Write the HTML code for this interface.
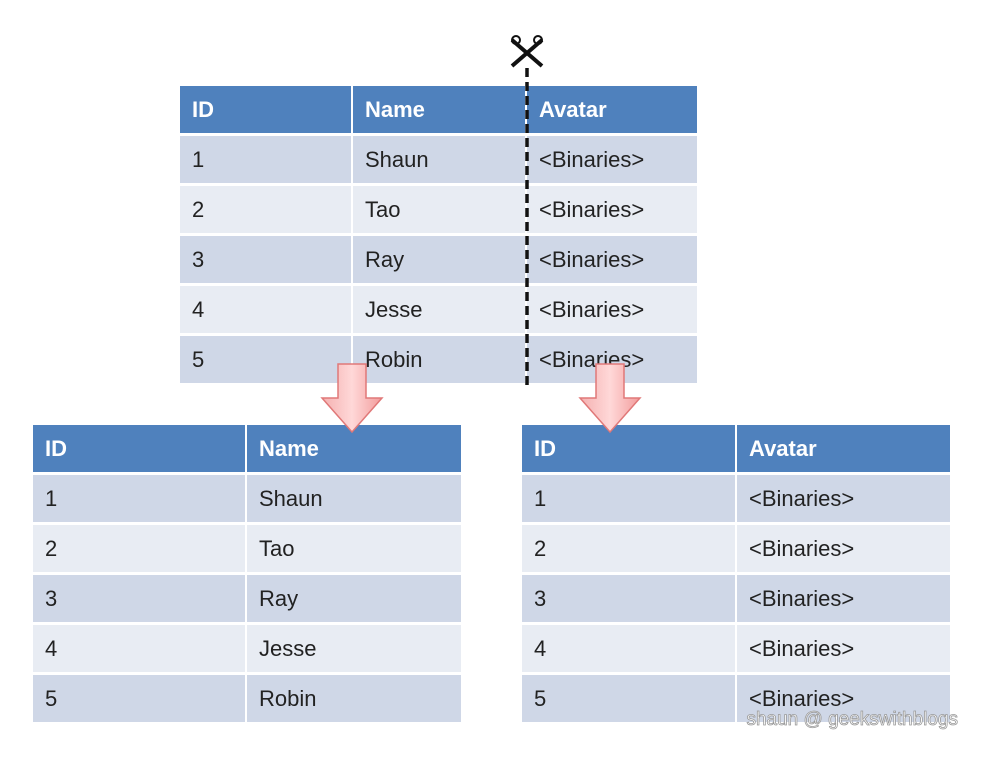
<!DOCTYPE html>
<html><head><style>
body{margin:0;width:1006px;height:758px;background:#fff;position:relative;overflow:hidden;font-family:"Liberation Sans",sans-serif;}
.c{position:absolute;box-sizing:border-box;padding-left:12px;font-size:22px;color:#222;display:flex;align-items:center;}
.h{background:#4f81bd;color:#fff;font-weight:bold;}
.o{background:#cfd7e7;}
.e{background:#e8ecf3;}
</style></head><body>
<div id="t"></div>
<svg style="position:absolute;left:0;top:0" width="1006" height="758">
<line x1="527" y1="68" x2="527" y2="390" stroke="#111" stroke-width="3.5" stroke-dasharray="9,5"/>
<path d="M512 40 L542 66 M542 40 L512 66" stroke="#111" stroke-width="4"/>
<circle cx="516" cy="40" r="4" fill="none" stroke="#111" stroke-width="2"/>
<circle cx="538" cy="40" r="4" fill="none" stroke="#111" stroke-width="2"/>
<defs><linearGradient id="g" x1="0" x2="1"><stop offset="0" stop-color="#f4b0b0"/><stop offset="0.5" stop-color="#ffd8d8"/><stop offset="1" stop-color="#f29c9c"/></linearGradient></defs>
<path d="M338 364 L366 364 L366 398 L382 398 L352 432 L322 398 L338 398 Z" fill="url(#g)" stroke="#e07878" stroke-width="1.5"/>
<path d="M596 364 L624 364 L624 398 L640 398 L610 432 L580 398 L596 398 Z" fill="url(#g)" stroke="#e07878" stroke-width="1.5"/>
<text x="958" y="725" text-anchor="end" font-family="Liberation Sans,sans-serif" font-size="19" fill="#fff" stroke="#999" stroke-width="0.8">shaun @ geekswithblogs</text>
</svg>
<script>
var out='';
function tbl(x,y,cols,rows){
 var hh=47,rh=50,top=y;
 rows.forEach(function(r,i){
  var cls=i==0?'h':(i%2?'o':'e');var h=i==0?hh:rh-3;var cx=x;
  r.forEach(function(t,j){var w=cols[j];
   out+='<div class="c '+cls+'" style="left:'+cx+'px;top:'+top+'px;width:'+(w-2)+'px;height:'+h+'px">'+t+'</div>';cx+=w;});
  top+=(i==0?hh+3:rh);
 });
}
var N=['Shaun','Tao','Ray','Jesse','Robin'];
var r1=[['ID','Name','Avatar']],r2=[['ID','Name']],r3=[['ID','Avatar']];
N.forEach(function(n,i){r1.push([i+1,n,'&lt;Binaries&gt;']);r2.push([i+1,n]);r3.push([i+1,'&lt;Binaries&gt;']);});
tbl(180,86,[173,174,172],r1);
tbl(33,425,[214,216],r2);
tbl(522,425,[215,215],r3);
document.getElementById('t').outerHTML=out;
</script>
<script>document.body.appendChild(document.querySelector('svg'));</script>
</body></html>
